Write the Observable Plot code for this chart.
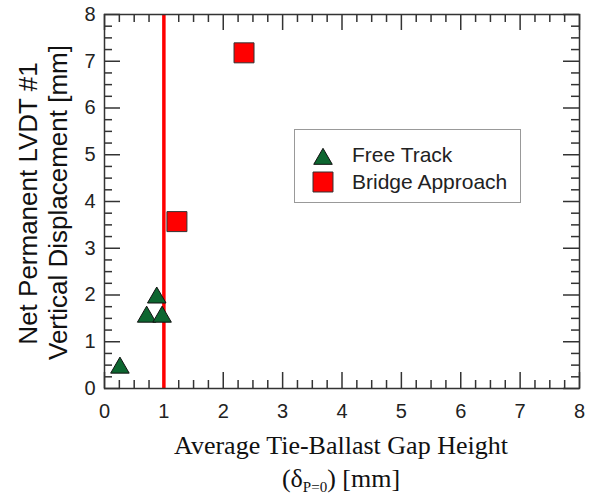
<!DOCTYPE html>
<html><head><meta charset="utf-8">
<script src="https://cdn.jsdelivr.net/npm/d3@7"></script>
<script src="https://cdn.jsdelivr.net/npm/@observablehq/plot@0.6"></script>
<style>
body{margin:0;background:#fff}
#chart{position:relative;width:592px;height:495px}
#chart svg{position:absolute;left:0;top:0}
.t{position:absolute;left:0;top:0;white-space:nowrap;line-height:1;margin:0;color:#111}
.sans{font-family:'Liberation Sans',Arial,sans-serif}
.serif{font-family:'Liberation Serif','Times New Roman',serif}
</style>
</head><body><div id="chart"></div>
<script>
// ---- data ----
const freeTrackX = [0.26, 0.71, 0.97, 0.88];
const freeTrackY = [0.50, 1.59, 1.59, 2.00];
const bridgeX = [1.22, 2.35];
const bridgeY = [3.57, 7.18];
const thresholdX = [1];
const xTicks = [0, 1, 2, 3, 4, 5, 6, 7, 8];
const yTicks = [0, 1, 2, 3, 4, 5, 6, 7, 8];
const seriesNames = ["Free Track", "Bridge Approach"];
const xTitle = "Average Tie-Ballast Gap Height";
const yTitle = ["Net Permanent LVDT #1", "Vertical Displacement [mm]"];

const freeTrack = freeTrackX.map((x, i) => ({x, y: freeTrackY[i]}));
const bridge = bridgeX.map((x, i) => ({x, y: bridgeY[i]}));
const minorX = d3.range(0, 8.0001, 0.25).filter(v => v % 1 !== 0);
const minorY = d3.range(0, 8.0001, 0.25).filter(v => v % 1 !== 0);

const W = 592, Ht = 495, mL = 104, mR = 13, mT = 14, mB = 107;
const FW = W - mL - mR, FH = Ht - mT - mB;
const green = "#0d6630", red = "#ff0000";
const triR = 6.87, sqR = 11.28;
const tk = {stroke: "#333", strokeWidth: 1.5};
// inward ticks drawn as rules trimmed by insets
const inTicksX = (vals, len) => [
  Plot.ruleX(vals, {...tk, insetTop: FH - len}),
  Plot.ruleX(vals, {...tk, insetBottom: FH - len})
];
const inTicksY = (vals, len) => [
  Plot.ruleY(vals, {...tk, insetRight: FW - len}),
  Plot.ruleY(vals, {...tk, insetLeft: FW - len})
];

const host = document.getElementById("chart");
const chart = Plot.plot({
  width: W, height: Ht,
  marginLeft: mL, marginRight: mR, marginTop: mT, marginBottom: mB,
  x: {domain: [0, 8], axis: null},
  y: {domain: [0, 8], axis: null},
  style: {fontFamily: "'Liberation Sans', Arial, sans-serif", background: "#fff"},
  marks: [
    ...inTicksX(minorX, 8),
    ...inTicksX(xTicks, 16),
    ...inTicksY(minorY, 8),
    ...inTicksY(yTicks, 16),
    Plot.ruleX(thresholdX, {stroke: red, strokeWidth: 3.5}),
    Plot.axisX(xTicks, {anchor: "bottom", tickSize: 0, tickPadding: 15, fontSize: 20, fill: "#222", label: null}),
    Plot.axisY(yTicks, {anchor: "left", tickSize: 0, tickPadding: 9, fontSize: 20, fill: "#222", label: null}),
    Plot.dot(freeTrack, {x: "x", y: "y", symbol: "triangle", r: triR, fill: green, stroke: "#111", strokeWidth: 1, dy: 2.67}),
    Plot.dot(bridge, {x: "x", y: "y", symbol: "square", r: sqR, fill: red, stroke: "#333", strokeWidth: 1}),
    Plot.frame({stroke: "#333", strokeWidth: 1.5})
  ]
});
host.appendChild(chart);

// ---- titles (HTML, outside the Plot SVG) ----
function addText(cls, css, html) {
  const d = document.createElement("div");
  d.className = "t " + cls;
  d.style.cssText = css;
  d.innerHTML = html;
  host.appendChild(d);
  return d;
}
// rotated y title: baseline-centred at given point
addText("sans", "font-size:26px;transform-origin:0 0;transform:translate(37px,203.5px) rotate(-90deg) translate(-50%,-22px);", yTitle[0]);
addText("sans", "font-size:26px;transform-origin:0 0;transform:translate(67px,202.5px) rotate(-90deg) translate(-50%,-22px);", yTitle[1]);
// x title
addText("serif", "font-size:26px;transform:translate(341px,433.2px) translate(-50%,0);", xTitle);
addText("serif", "font-size:26px;transform:translate(341px,466.2px) translate(-50%,0);",
  '(δ<span style="font-size:15px;vertical-align:-5px">P=0</span>) [mm]');

// ---- legend (HTML box, small inline SVG symbols) ----
const box = document.createElement("div");
box.style.cssText = "position:absolute;left:294px;top:129px;width:227px;height:74px;box-sizing:border-box;border:1.2px solid #999;background:#fff";
host.appendChild(box);
function addSymbol(type, r, fill, stroke, cx, cy) {
  const s = d3.create("svg").attr("width", 30).attr("height", 30)
    .style("position", "absolute").style("left", (cx - 15) + "px").style("top", (cy - 15) + "px");
  s.append("path").attr("d", d3.symbol().type(type).size(Math.PI * r * r)())
    .attr("transform", "translate(15,15)").attr("fill", fill).attr("stroke", stroke);
  host.appendChild(s.node());
}
addSymbol(d3.symbolTriangle, triR, green, "#111", 323, 158.7);
addSymbol(d3.symbolSquare, sqR, red, "#333", 323, 182);
addText("sans", "font-size:21px;color:#222;transform:translate(352px,144.2px);", seriesNames[0]);
addText("sans", "font-size:21px;color:#222;transform:translate(352px,171.2px);", seriesNames[1]);
</script>
</body></html>
